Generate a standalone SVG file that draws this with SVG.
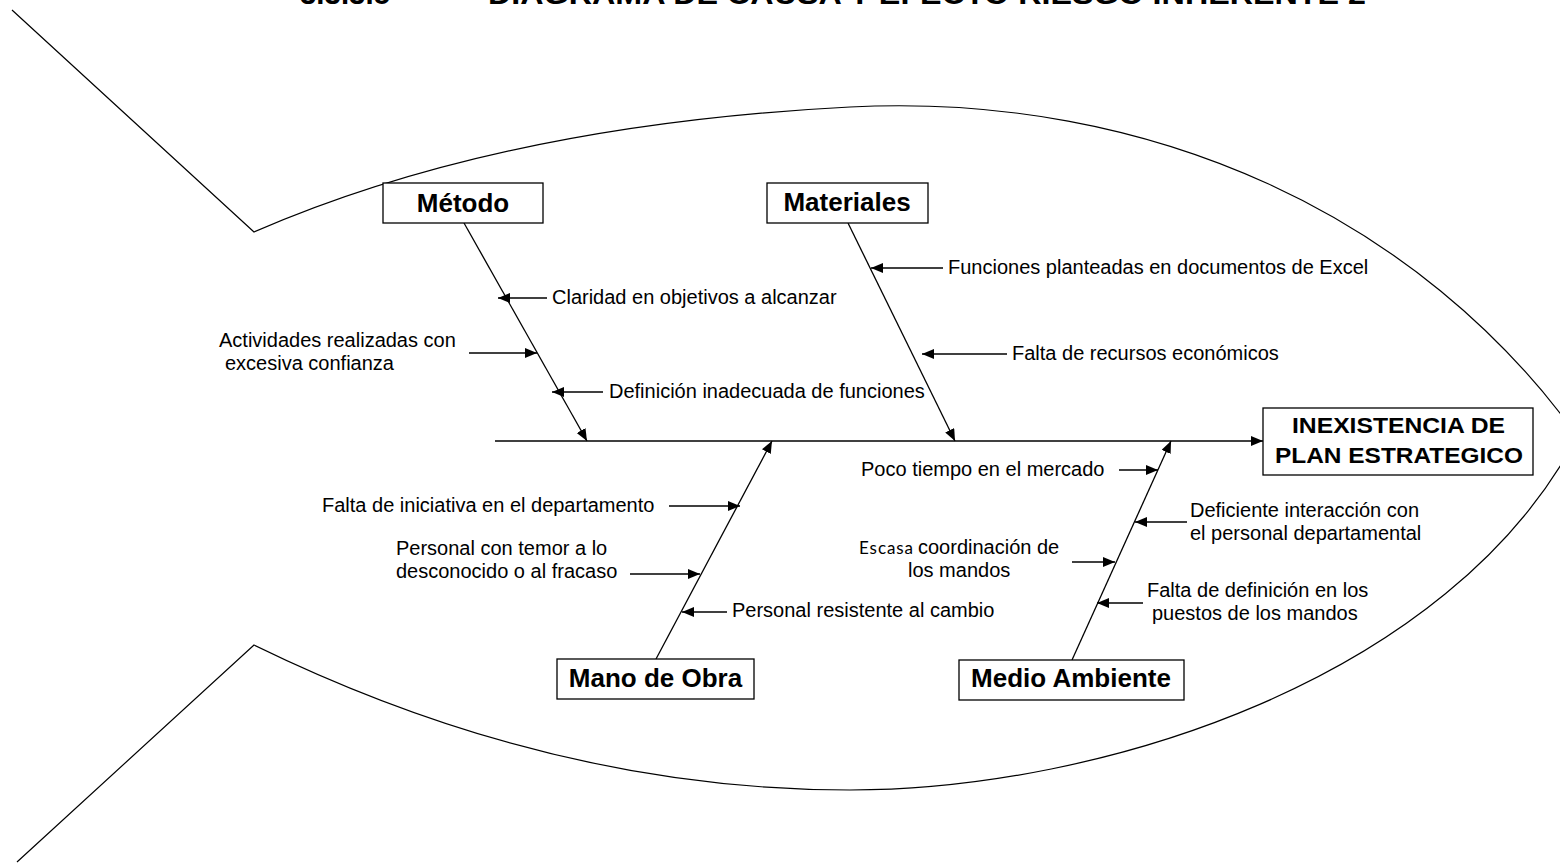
<svg xmlns="http://www.w3.org/2000/svg" width="1560" height="863" viewBox="0 0 1560 863">
<defs>
<marker id="ah" markerUnits="userSpaceOnUse" markerWidth="13" markerHeight="11" refX="12" refY="5" orient="auto">
<path d="M0,0 L12,5 L0,10 z" fill="#000"/>
</marker>
<style>
.ln{stroke:#000;stroke-width:1.2;fill:none}
.ar{stroke:#000;stroke-width:1.3;fill:none;marker-end:url(#ah)}
.box{fill:#fff;stroke:#000;stroke-width:1.3}
.cat{font-family:"Liberation Sans",Arial,sans-serif;font-size:26px;font-weight:bold;fill:#000;text-anchor:middle}
.eff{font-family:"Liberation Sans",Arial,sans-serif;font-size:22px;font-weight:bold;fill:#000;text-anchor:middle}
.lbl{font-family:"Liberation Sans",Arial,sans-serif;font-size:20px;fill:#000}
.ttl{font-family:"Liberation Sans",Arial,sans-serif;font-size:30px;font-weight:bold;fill:#000}
</style>
</defs>
<rect width="1560" height="863" fill="#fff"/>
<g id="title">
<text class="ttl" x="300" y="4" textLength="90" lengthAdjust="spacingAndGlyphs">3.3.3.5</text>
<text class="ttl" x="488" y="4" textLength="878" lengthAdjust="spacingAndGlyphs">DIAGRAMA DE CAUSA Y EFECTO RIESGO INHERENTE 2</text>
</g>
<g id="fish">
<path class="ln" d="M12,10 L254,232 Q500,125 850,107 C1150,92 1420,215 1580,440"/>
<path class="ln" d="M17,862 L254,645 Q551,790 850,790 C1100,790 1450,680 1578,435"/>
</g>
<g id="connectors">
<line class="ar" x1="495" y1="441" x2="1263" y2="441"/>
<line class="ar" x1="464" y1="223" x2="587" y2="441"/>
<line class="ar" x1="848" y1="223" x2="955" y2="441"/>
<line class="ar" x1="656" y1="659" x2="772" y2="441"/>
<line class="ar" x1="1072" y1="660" x2="1171" y2="441"/>
<line class="ar" x1="547" y1="298" x2="498" y2="298"/>
<line class="ar" x1="469" y1="353" x2="537" y2="353"/>
<line class="ar" x1="603" y1="392" x2="552" y2="392"/>
<line class="ar" x1="943" y1="268" x2="871" y2="268"/>
<line class="ar" x1="1007" y1="354" x2="922" y2="354"/>
<line class="ar" x1="669" y1="506" x2="740" y2="506"/>
<line class="ar" x1="630" y1="574" x2="700" y2="574"/>
<line class="ar" x1="727" y1="612" x2="682" y2="612"/>
<line class="ar" x1="1119" y1="470" x2="1158" y2="470"/>
<line class="ar" x1="1187" y1="522" x2="1135" y2="522"/>
<line class="ar" x1="1072" y1="562" x2="1115" y2="562"/>
<line class="ar" x1="1143" y1="603" x2="1097" y2="603"/>
</g>
<g id="metodo">
<rect class="box" x="383" y="183" width="160" height="40"/>
<text class="cat" x="463" y="212">Método</text>
</g>
<g id="materiales">
<rect class="box" x="767" y="183" width="161" height="40"/>
<text class="cat" x="847" y="211">Materiales</text>
</g>
<g id="mano-de-obra">
<rect class="box" x="557" y="659" width="197" height="40"/>
<text class="cat" x="655.5" y="687">Mano de Obra</text>
</g>
<g id="medio-ambiente">
<rect class="box" x="959" y="660" width="225" height="40"/>
<text class="cat" x="1071" y="687">Medio Ambiente</text>
</g>
<g id="efecto">
<rect class="box" x="1263" y="408" width="270" height="67"/>
<text class="eff" x="1398.5" y="433" textLength="213" lengthAdjust="spacingAndGlyphs">INEXISTENCIA DE</text>
<text class="eff" x="1399" y="463" textLength="248" lengthAdjust="spacingAndGlyphs">PLAN ESTRATEGICO</text>
</g>
<g id="causa-claridad"><text class="lbl" x="552" y="304">Claridad en objetivos a alcanzar</text></g>
<g id="causa-actividades"><text class="lbl" x="219" y="347">Actividades realizadas con</text><text class="lbl" x="225" y="370">excesiva confianza</text></g>
<g id="causa-definicion"><text class="lbl" x="609" y="398">Definición inadecuada de funciones</text></g>
<g id="causa-funciones"><text class="lbl" x="948" y="274">Funciones planteadas en documentos de Excel</text></g>
<g id="causa-recursos"><text class="lbl" x="1012" y="360">Falta de recursos económicos</text></g>
<g id="causa-iniciativa"><text class="lbl" x="322" y="512">Falta de iniciativa en el departamento</text></g>
<g id="causa-temor"><text class="lbl" x="396" y="555">Personal con temor a lo</text><text class="lbl" x="396" y="578">desconocido o al fracaso</text></g>
<g id="causa-resistente"><text class="lbl" x="732" y="617">Personal resistente al cambio</text></g>
<g id="causa-tiempo"><text class="lbl" x="861" y="476">Poco tiempo en el mercado</text></g>
<g id="causa-interaccion"><text class="lbl" x="1190" y="517">Deficiente interacción con</text><text class="lbl" x="1190" y="540">el personal departamental</text></g>
<g id="causa-coordinacion"><text class="lbl" x="859" y="554"><tspan font-family="Lato,'Open Sans',sans-serif" font-size="17px" textLength="54">Escasa</tspan><tspan x="918">coordinación de</tspan></text><text class="lbl" x="908" y="577">los mandos</text></g>
<g id="causa-puestos"><text class="lbl" x="1147" y="597">Falta de definición en los</text><text class="lbl" x="1152" y="620">puestos de los mandos</text></g>
</svg>
